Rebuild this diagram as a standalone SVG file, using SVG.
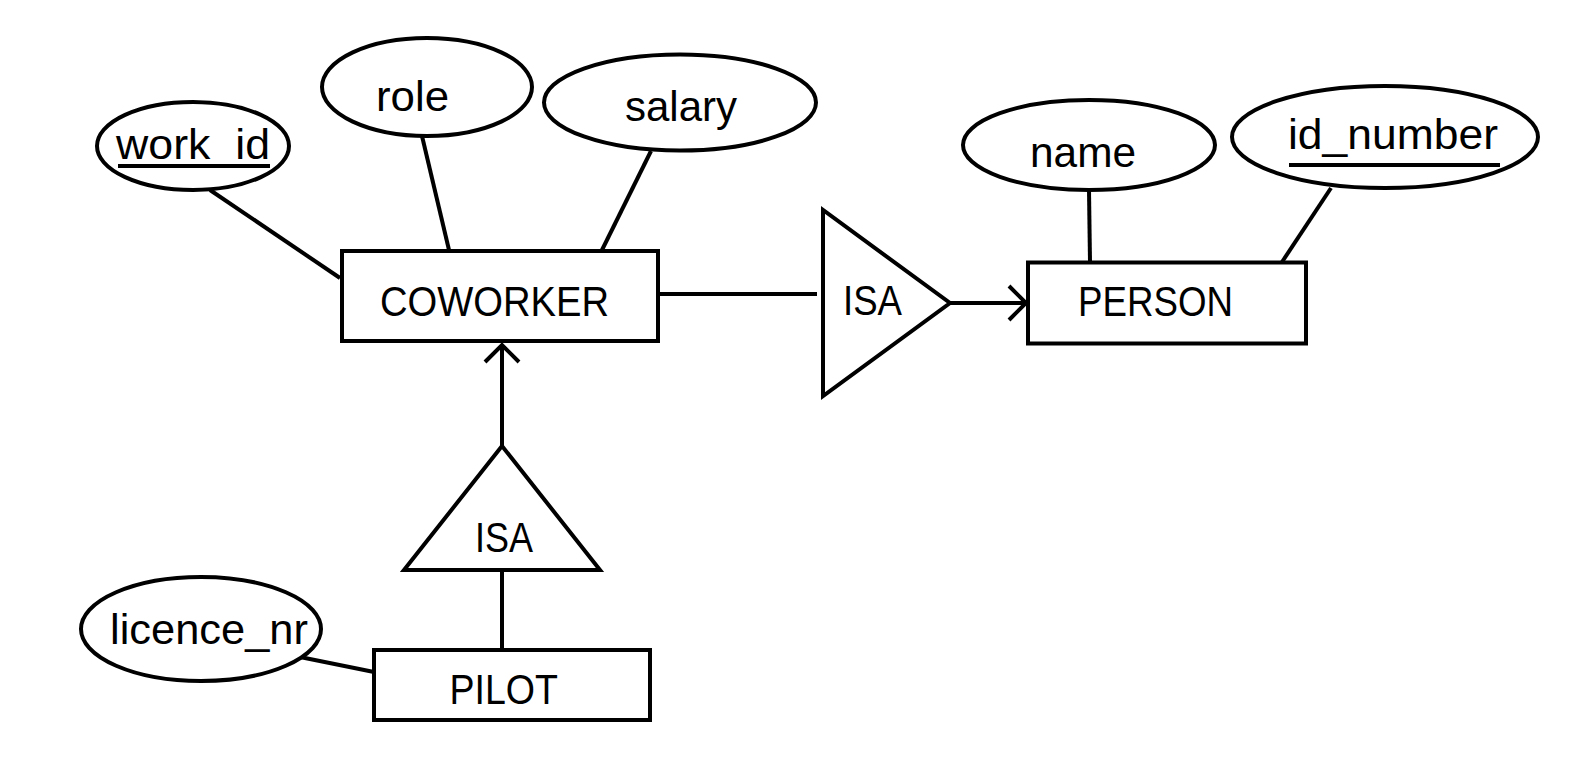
<svg xmlns="http://www.w3.org/2000/svg" width="1591" height="766" viewBox="0 0 1591 766">
<style>
.s{fill:#fff;stroke:#000;stroke-width:4}
.c{fill:none;stroke:#000;stroke-width:4}
.t{font-family:"Liberation Sans",Arial,sans-serif;font-size:43px;fill:#000}
</style>
<defs>
<marker id="arr" markerUnits="userSpaceOnUse" viewBox="-22 -22 26 44" refX="0" refY="0" markerWidth="26" markerHeight="44" orient="auto" overflow="visible">
<path d="M-17,-17 L0,0 L-17,17" fill="none" stroke="#000" stroke-width="4" stroke-linejoin="miter"/>
</marker>
</defs>
<rect width="1591" height="766" fill="#fff"/>
<g id="connectors">
<line class="c" x1="210" y1="190" x2="340" y2="278"/>
<line class="c" x1="422" y1="136" x2="449" y2="250"/>
<line class="c" x1="651" y1="151" x2="602" y2="250"/>
<line class="c" x1="660" y1="294" x2="817" y2="294"/>
<line class="c" x1="950" y1="303" x2="1026" y2="303" marker-end="url(#arr)"/>
<line class="c" x1="1089" y1="190" x2="1090" y2="262"/>
<line class="c" x1="1331" y1="188" x2="1282" y2="262"/>
<line class="c" x1="502" y1="570" x2="502" y2="649"/>
<line class="c" x1="502" y1="446" x2="502" y2="345" marker-end="url(#arr)"/>
<line class="c" x1="300" y1="657" x2="374" y2="672"/>
</g>
<g id="work_id">
<ellipse class="s" cx="193" cy="146" rx="96" ry="44"/>
<text class="t" x="116" y="159" textLength="154" lengthAdjust="spacingAndGlyphs">work_id</text>
<line x1="118" y1="166" x2="270" y2="166" stroke="#000" stroke-width="4"/>
</g>
<g id="role">
<ellipse class="s" cx="427" cy="87" rx="105" ry="49"/>
<text class="t" x="376" y="111" textLength="73" lengthAdjust="spacingAndGlyphs">role</text>
</g>
<g id="salary">
<ellipse class="s" cx="680" cy="102.5" rx="136" ry="48"/>
<text class="t" x="625" y="120.5" textLength="112" lengthAdjust="spacingAndGlyphs">salary</text>
</g>
<g id="coworker">
<rect class="s" x="342" y="251" width="316" height="90"/>
<text class="t" x="380" y="316" textLength="229" lengthAdjust="spacingAndGlyphs">COWORKER</text>
</g>
<g id="isa1">
<polygon class="s" points="823,210 823,396 950,303"/>
<text class="t" x="843" y="315" textLength="59" lengthAdjust="spacingAndGlyphs">ISA</text>
</g>
<g id="person">
<rect class="s" x="1028" y="262.5" width="278" height="81"/>
<text class="t" x="1078" y="316" textLength="155" lengthAdjust="spacingAndGlyphs">PERSON</text>
</g>
<g id="name">
<ellipse class="s" cx="1089" cy="145" rx="126" ry="45"/>
<text class="t" x="1030" y="166.5" textLength="106" lengthAdjust="spacingAndGlyphs">name</text>
</g>
<g id="id_number">
<ellipse class="s" cx="1385" cy="137" rx="153" ry="51"/>
<text class="t" x="1288" y="149" textLength="210" lengthAdjust="spacingAndGlyphs">id_number</text>
<line x1="1289" y1="165" x2="1500" y2="165" stroke="#000" stroke-width="4"/>
</g>
<g id="isa2">
<polygon class="s" points="502,446 404,570 600,570"/>
<text class="t" x="475" y="551.5" textLength="58" lengthAdjust="spacingAndGlyphs">ISA</text>
</g>
<g id="pilot">
<rect class="s" x="374" y="650" width="276" height="70"/>
<text class="t" x="449.5" y="703.5" textLength="108.5" lengthAdjust="spacingAndGlyphs">PILOT</text>
</g>
<g id="licence_nr">
<ellipse class="s" cx="201" cy="629" rx="120" ry="52"/>
<text class="t" x="110" y="643.5" textLength="198" lengthAdjust="spacingAndGlyphs">licence_nr</text>
</g>
</svg>
